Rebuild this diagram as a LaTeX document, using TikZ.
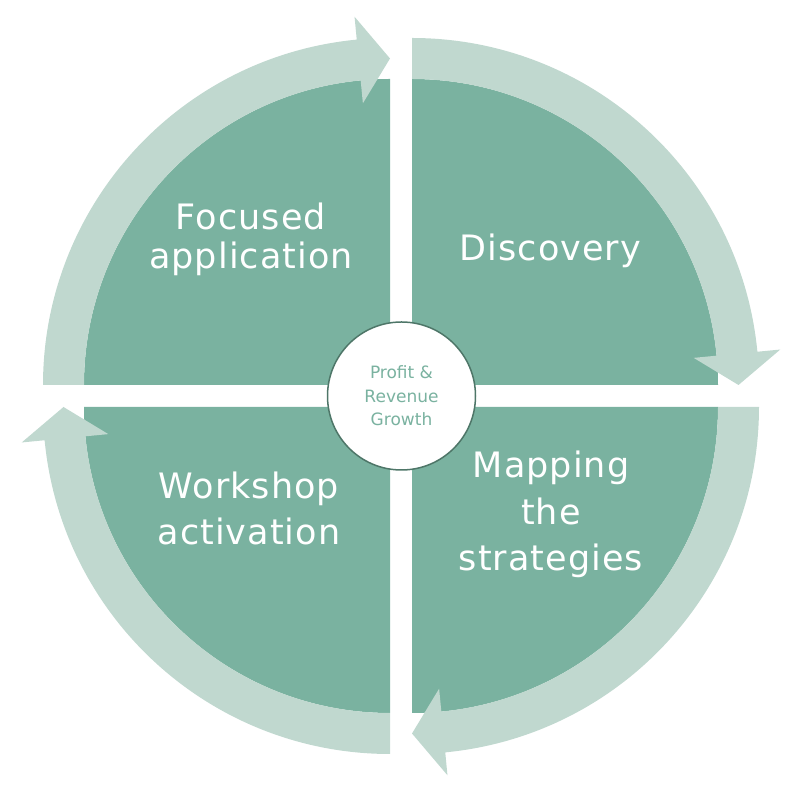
\documentclass[tikz,border=0pt]{standalone}
\usepackage{fontspec}
\setmainfont{DejaVu Sans}
\newfontfamily\phasefont[LetterSpace=3]{DejaVu Sans}
\usepackage{tikz}
\usetikzlibrary{positioning}
\usepackage{xcolor}
\definecolor{cdark}{RGB}{122, 178, 160}
\definecolor{clite}{RGB}{192, 216, 207}
\definecolor{cedge}{RGB}{78, 118, 104}

\begin{document}
\begin{tikzpicture}[x=1pt, y=1pt,
  sector/.style={fill=cdark},
  ring/.style={fill=clite},
  hub/.style={circle, draw=cedge, line width=1.5pt, fill=white,
              minimum size=148pt, align=center, text=cdark,
              font=\fontsize{17}{23.5}\selectfont},
  phase/.style={align=center, text=white, inner sep=0pt,
                font=\phasefont\fontsize{35}{#1}\selectfont}
]
\useasboundingbox (0,0) rectangle (812,803);

% quadrant corners
\coordinate (tl) at (390,418);
\coordinate (tr) at (412,418);
\coordinate (br) at (412,396);
\coordinate (bl) at (390,396);

% dark quarter discs
\fill[sector] (tl) -- ([shift={(tl)}]180:306) arc[start angle=180, end angle=90, radius=306] -- cycle;
\fill[sector] (tr) -- ([shift={(tr)}]90:306) arc[start angle=90, end angle=0, radius=306] -- cycle;
\fill[sector] (br) -- ([shift={(br)}]0:306) arc[start angle=0, end angle=-90, radius=306] -- cycle;
\fill[sector] (bl) -- ([shift={(bl)}]270:306) arc[start angle=270, end angle=180, radius=306] -- cycle;

% light arrows round the disc
\fill[ring] ([shift={(tl)}]180:306) arc[start angle=180, end angle=95.5, radius=306]
  -- ([shift={(tl)}]95.5:283) -- ([shift={(tl)}]90:326.5) -- ([shift={(tl)}]95.5:370)
  -- ([shift={(tl)}]95.5:347) arc[start angle=95.5, end angle=180, radius=347] -- cycle;
\fill[ring] ([shift={(tr)}]90:306) arc[start angle=90, end angle=5.5, radius=306]
  -- ([shift={(tr)}]5.5:283) -- ([shift={(tr)}]0:326.5) -- ([shift={(tr)}]5.5:370)
  -- ([shift={(tr)}]5.5:347) arc[start angle=5.5, end angle=90, radius=347] -- cycle;
\fill[ring] ([shift={(br)}]0:306) arc[start angle=0, end angle=-84.5, radius=306]
  -- ([shift={(br)}]-84.5:283) -- ([shift={(br)}]-90:326.5) -- ([shift={(br)}]-84.5:370)
  -- ([shift={(br)}]-84.5:347) arc[start angle=-84.5, end angle=0, radius=347] -- cycle;
\fill[ring] ([shift={(bl)}]270:306) arc[start angle=270, end angle=185.5, radius=306]
  -- ([shift={(bl)}]185.5:283) -- ([shift={(bl)}]180:326.5) -- ([shift={(bl)}]185.5:370)
  -- ([shift={(bl)}]185.5:347) arc[start angle=185.5, end angle=270, radius=347] -- cycle;

% labels
\node[phase=39]   (focus)    at (251,563.6) {Focused\\application};
\node[phase=46]   (discover) at (550.5,552.5) {Discovery};
\node[phase=46.5] (mapping)  at (551,288.3) {Mapping\\the\\strategies};
\node[phase=46]   (workshop) at (249,294.3) {Workshop\\activation};

\node[hub] (hub) at (401.5,407) {Profit \&\\Revenue\\Growth};
\end{tikzpicture}
\end{document}
